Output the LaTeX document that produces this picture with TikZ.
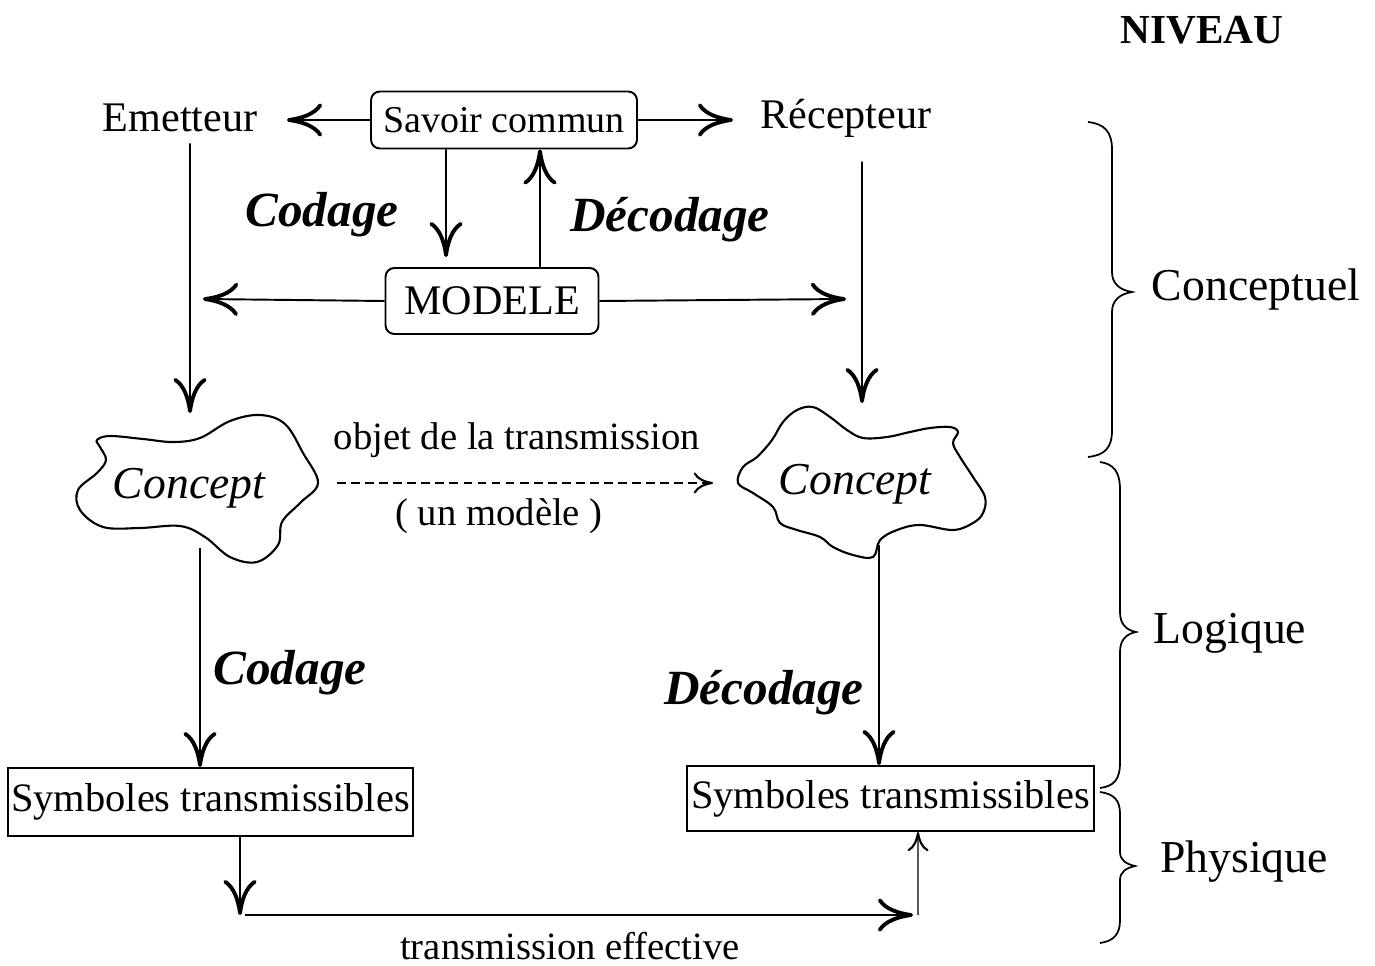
\documentclass[tikz,border=0pt]{standalone}
\usepackage{fontspec}
\setmainfont{Liberation Serif}
\usetikzlibrary{arrows.meta,calc}

\begin{document}
\begin{tikzpicture}[x=0.02cm,y=-0.02cm,line width=1.1pt,
  arr/.style={-{Computer Modern Rightarrow[length=20pt,width=19pt,line width=2.2pt]}},
  arrs/.style={-{Computer Modern Rightarrow[length=11pt,width=12pt,line width=1.2pt]}},
  big/.style={inner sep=2pt,font=\fontsize{24pt}{28pt}\selectfont},
  mid/.style={inner sep=2pt,font=\fontsize{22pt}{26pt}\selectfont},
  sym/.style={font=\fontsize{23pt}{27pt}\selectfont},
  cod/.style={inner sep=2pt,font=\fontsize{28pt}{32pt}\selectfont\bfseries\itshape},
  cpt/.style={inner sep=2pt,font=\fontsize{26pt}{30pt}\selectfont\itshape},
  lvl/.style={inner sep=2pt,font=\fontsize{26pt}{30pt}\selectfont},
  rbox/.style={draw,rounded corners=5pt,inner sep=0pt},
  sbox/.style={draw,inner sep=0pt},
  cloud/.style={line width=1.2pt},
  brace/.style={line width=1pt}]
\useasboundingbox (0,0) rectangle (1375,966);

% heading
\node[inner sep=2pt,font=\fontsize{23.5pt}{28pt}\selectfont\bfseries] (niv) at (1202,30) {NIVEAU};

% top row
\node[big] (emet) at (180,118) {Emetteur};
\node[rbox,font=\fontsize{21.6pt}{26pt}\selectfont,minimum width=5.32cm,minimum height=1.14cm] (sav) at (504,120) {Savoir commun};
\node[big] (rec) at (846,118) {Récepteur};
\node[rbox,big,inner sep=0pt,minimum width=4.26cm,minimum height=1.32cm] (mod) at (492,301) {MODELE};
\node[cod] (cod1) at (322,215) {Codage};
\node[cod] (dec1) at (670,220) {Décodage};

% concept clouds
\draw[cloud] plot[smooth cycle,tension=0.6] coordinates {(97,440) (110,436) (143,439) (173,442) (200,438) (230,421) (260,415) (285,424) (303,453) (318,483) (300,503) (282,522) (278,545) (257,562) (230,557) (205,537) (180,526) (140,528) (103,527) (80,510) (78,490) (97,473) (106,460) (100,447)};
\draw[cloud] plot[smooth cycle,tension=0.6] coordinates {(772,440) (783,422) (797,410) (813,407) (830,417) (847,430) (863,438) (887,437) (910,432) (930,428) (950,427) (958,432) (953,443) (960,457) (973,477) (985,497) (983,513) (973,523) (953,530) (920,525) (897,530) (880,540) (873,557) (853,555) (833,547) (820,537) (797,530) (780,523) (773,507) (753,493) (738,483) (743,467) (757,457)};
\node[cpt] (c1) at (189,488) {Concept};
\node[cpt] (c2) at (855,484) {Concept};
\node[mid] (obj) at (517,440) {objet de la transmission};
\node[mid] (unm) at (499,516) {( un modèle )};

% lower part
\node[cod] (cod2) at (290,673) {Codage};
\node[cod] (dec2) at (764,693) {Décodage};
\node[sbox,sym,minimum width=8.1cm,minimum height=1.36cm] (s1) at (210.5,802) {Symboles transmissibles};
\node[sbox,sym,minimum width=8.14cm,minimum height=1.3cm] (s2) at (890.5,798.5) {Symboles transmissibles};
\node[mid] (te) at (570,946) {transmission effective};

% levels
\node[lvl] (lc) at (1256,290) {Conceptuel};
\node[lvl] (ll) at (1230,633) {Logique};
\node[lvl] (lp) at (1244,862) {Physique};

% free ends of connectors
\coordinate (emetIn) at (287,120);
\coordinate (recIn) at (733,120);
\coordinate (modL) at (203,299);
\coordinate (modR) at (846,299);
\coordinate (c1top) at (190,413);
\coordinate (c2top) at (862,403);
\coordinate (c1r) at (337,483);
\coordinate (c2l) at (713,483);
\coordinate (c1b) at (200,548);
\coordinate (c2b) at (879,545);
\coordinate (b1) at (240,915);
\coordinate (b2) at (918,915);

% connectors
\draw[arr] (sav.west) -- (emetIn);
\draw[arr] (sav.east) -- (recIn);
\draw[arr] ([xshift=-1.16cm]sav.south) -- ([xshift=-0.92cm,yshift=0.2cm]mod.north);
\draw[arr] ([xshift=0.96cm]mod.north) -- ([xshift=0.72cm]sav.south);
\draw[arr] (mod.west) -- (modL);
\draw[arr] (mod.east) -- (modR);
\draw[arr] ([xshift=0.2cm,yshift=-0.14cm]emet.south) -- (c1top);
\draw[arr] ([xshift=0.32cm,yshift=-0.4cm]rec.south) -- (c2top);
\draw[arrs,dashed,line width=0.6pt,dash pattern=on 5pt off 3pt] (c1r) -- (c2l);
\draw[arr] (c1b) -- ([xshift=-0.21cm]s1.north);
\draw[arr] (c2b) -- ([xshift=-0.23cm]s2.north);
\draw[arr] ([xshift=0.59cm]s1.south) -- (b1);
\draw[arr] ($(b1)+(5,0)$) -- ($(b2)+(-5,0)$);
\draw[arrs,line width=0.8pt] (b2) -- ([xshift=0.55cm]s2.south);

% level braces
\draw[brace] (1088,122) .. controls (1105,124) and (1112,132) .. (1112,150) -- (1112,272)
  .. controls (1112,284) and (1120,290) .. (1132,292) .. controls (1120,294) and (1112,300) .. (1112,312)
  -- (1112,430) .. controls (1112,448) and (1105,455) .. (1088,457);
\draw[brace] (1100,462) .. controls (1114,464) and (1120,472) .. (1120,490) -- (1120,612)
  .. controls (1120,624) and (1126,630) .. (1136,632) .. controls (1126,634) and (1120,640) .. (1120,652)
  -- (1120,762) .. controls (1120,780) and (1114,786) .. (1100,788);
\draw[brace] (1100,792) .. controls (1114,794) and (1120,800) .. (1120,814) -- (1120,852)
  .. controls (1120,860) and (1126,864) .. (1135,866) .. controls (1126,868) and (1120,872) .. (1120,880)
  -- (1120,920) .. controls (1120,934) and (1114,941) .. (1100,943);
\end{tikzpicture}
\end{document}
